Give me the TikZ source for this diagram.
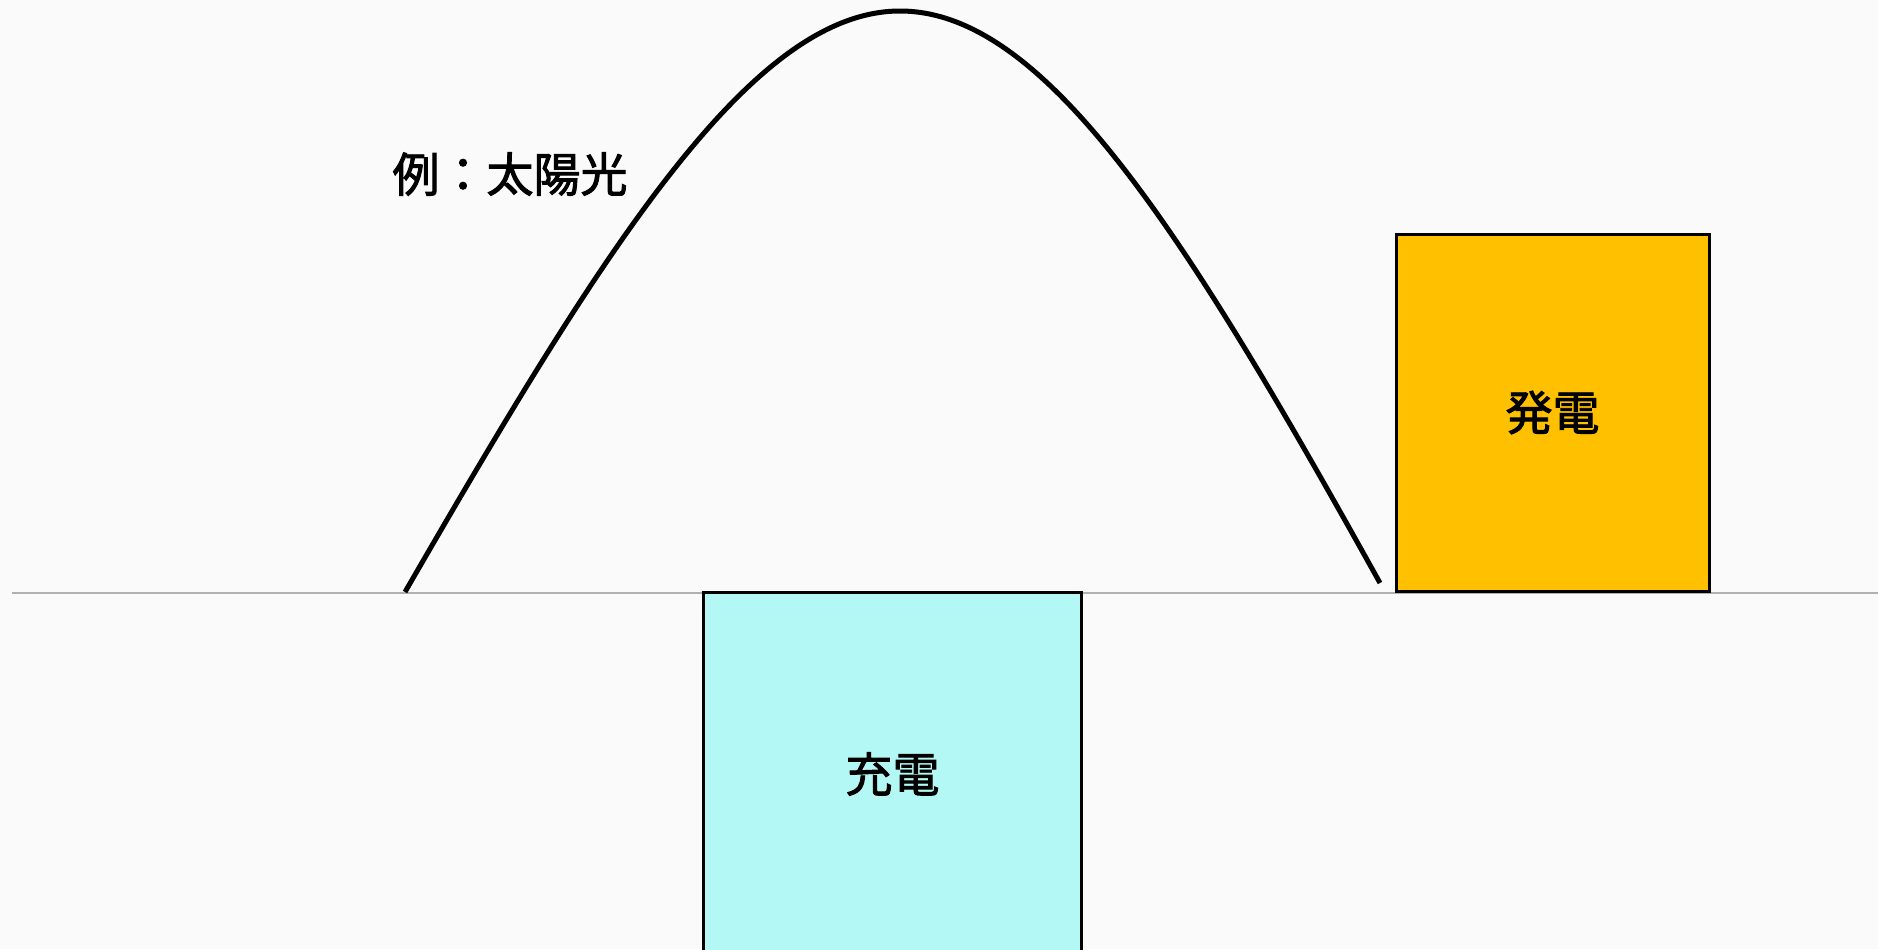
\documentclass[tikz,border=0pt]{standalone}
\usepackage{fontspec}
\setmainfont{Noto Sans CJK JP}
\newfontfamily\jpfont[FakeBold=2]{Noto Sans CJK JP}
\usepackage{xcolor}
\usetikzlibrary{positioning}
\definecolor{bgpage}{HTML}{FAFAFA}
\definecolor{chargefill}{HTML}{B3F8F5}
\definecolor{genfill}{HTML}{FFC000}
\definecolor{zerogray}{HTML}{B0B0B0}

\begin{document}
\begin{tikzpicture}[
    x=0.5pt, y=-0.5pt,
    lbl/.style={font=\jpfont\fontsize{23.5}{28}\selectfont, inner sep=0pt},
    barbox/.style={draw=black, line width=1.5pt, inner sep=0pt, font=\jpfont\fontsize{23.5}{28}\selectfont},
    sunline/.style={line width=2.5pt, line cap=butt}
]
\useasboundingbox (0,0) rectangle (1878,949);
\fill[bgpage] (0,0) rectangle (1878,949);

% zero line
\coordinate (zl) at (12,593);
\coordinate (zr) at (1878,593);
\draw[zerogray, line width=1pt] (zl) -- (zr);

% solar output curve
\coordinate (sunrise) at (405,592);
\coordinate (noon) at (900,11);
\coordinate (sunset) at (1380,583);
\draw[sunline] (sunrise) .. controls (605,246) and (752,11) .. (noon)
  .. controls (1045,11) and (1185,232) .. (sunset);

\node[lbl] (example) at (510,174) {例：太陽光};

% charge / generation
\node[barbox, fill=chargefill, minimum width=189pt, minimum height=182pt] (charge) at (892.5,774) {充電};
\node[barbox, fill=genfill, minimum width=156.5pt, minimum height=178.5pt] (gen) at (1552.5,412.5) {発電};
\end{tikzpicture}
\end{document}
